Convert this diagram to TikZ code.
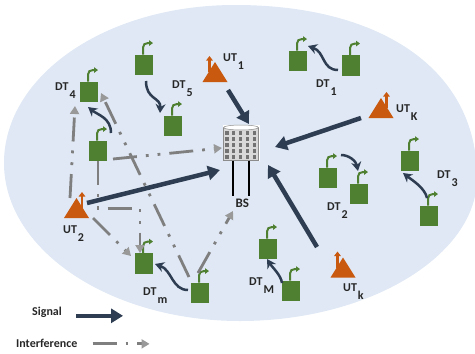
\documentclass[tikz,border=0pt]{standalone}
\usepackage{fontspec}
\setmainfont{Carlito}
\usetikzlibrary{arrows.meta}

\definecolor{cellblue}{HTML}{DFE8F4}
\definecolor{dtgreen}{HTML}{4F7F30}
\definecolor{utorange}{HTML}{C9590F}
\definecolor{sigdark}{HTML}{2E3D52}
\definecolor{intgray}{HTML}{7F7F7F}

\tikzset{
  dt/.style={fill=dtgreen, minimum width=18.5pt, minimum height=20.5pt, inner sep=0pt},
  dtant/.style={draw=dtgreen, line width=2pt, -{Triangle[length=4pt,width=5.5pt]}},
  ut/.style={minimum width=25pt, minimum height=20pt, inner sep=0pt},
  lbl/.style={anchor=base west, inner sep=0pt, font=\fontsize{12}{13}\selectfont\bfseries, text=black!85},
  signal/.style={draw=sigdark, line width=4.5pt, -{Triangle[length=12pt,width=14pt]}},
  pair/.style={draw=sigdark, line width=2.5pt, -{Stealth[length=9pt,width=10pt]}},
  interf/.style={draw=intgray, line width=2.8pt,
    dash pattern=on 24pt off 9pt on 2.8pt off 9pt on 2.8pt off 9pt,
    -{Triangle[length=8pt,width=9pt,fill=intgray!80,color=intgray!80]}},
}

\newcommand{\dtnode}[2]{
  \node[dt] (#1) at (#2) {};
  \draw[dtant] ([xshift=-1pt]#1.north) -- ++(0,-7) .. controls +(0,-3) and +(-3,0) .. ++(5,-4.5) -- ++(5,0);
}
\newcommand{\utnode}[3][1]{
  \node[ut] (#2) at (#3) {};
  \fill[utorange, shift={(#3)}, xscale=#1] (-12.5,10) -- (0,-10) -- (12.5,10) -- cycle;
  \draw[utorange, shift={(#3)}, xscale=#1, line width=2.2pt, -{Triangle[length=4.5pt,width=6.5pt]}] (5.5,0) -- (5.5,-16);
}
\newcommand{\sublab}[4]{
  \node[lbl] (#1) at (#2) {#3\hspace{1pt}\raisebox{-8pt}{#4}};
}

\begin{document}
\begin{tikzpicture}[x=1pt, y=-1pt]
  \useasboundingbox (0,0) rectangle (475,354);

  % coverage area
  \fill[cellblue] (4,163) .. controls (4,76) and (105,5) .. (235,5)
    .. controls (375,5) and (477,65) .. (477,178)
    .. controls (477,255) and (370,321) .. (240,321)
    .. controls (110,321) and (4,250) .. (4,163) -- cycle;

  % base station
  \node[fill=white, minimum width=37pt, minimum height=36pt, inner sep=0pt] (bs) at (241,142.5) {};
  \fill[black!15, draw=black!45, line width=0.5pt] (223.5,127.5) -- (223.5,160) -- (258.5,160) -- (258.5,127.5);
  \filldraw[fill=white, draw=black!45, line width=0.5pt] (241,127.5) ellipse [x radius=17.5, y radius=2.5];
  \foreach \wx in {227,233.5,240.5,247.5,254.5}
    \foreach \wy in {133,139,145,151,157}
      \fill[black!55] (\wx-1.8,\wy-1.8) rectangle (\wx+1.8,\wy+1.8);
  \draw[black, line width=2.2pt] ([xshift=-8pt]bs.south) -- ++(0,35);
  \draw[black, line width=2.2pt] ([xshift=8pt]bs.south) -- ++(0,35);
  \node[lbl, font=\fontsize{13}{13}\selectfont\bfseries] (bslab) at (235.5,207) {BS};

  % devices
  \dtnode{dtfour}{89,92}
  \dtnode{dtfiveb}{144,65}
  \dtnode{dtfive}{173,126}
  \dtnode{dtmid}{98,151}
  \dtnode{dtm}{144,263.5}
  \dtnode{dtmb}{200,293}
  \dtnode{dtone}{298,61}
  \dtnode{dtoneb}{351,65.5}
  \dtnode{dttwo}{328,178}
  \dtnode{dttwob}{359,194}
  \dtnode{dtthree}{410,161}
  \dtnode{dtthreeb}{429,216}
  \dtnode{dtM}{268,249}
  \dtnode{dtMb}{291,291}

  % users
  \utnode[-1]{utone}{215,72}
  \utnode{uttwo}{76.5,208}
  \utnode{utK}{381,108}
  \utnode[-1]{utk}{343,267.5}

  % labels
  \sublab{labdtfour}{55,90}{DT}{4}
  \sublab{labdtfive}{172,88}{DT}{5}
  \sublab{labdtone}{316,87}{DT}{1}
  \sublab{labdttwo}{327,210}{DT}{2}
  \sublab{labdtthree}{437,178}{DT}{3}
  \sublab{labdtM}{249,285}{DT}{M}
  \sublab{labdtm}{143,295}{DT}{m}
  \sublab{labutone}{223,61}{UT}{1}
  \sublab{labuttwo}{63,233}{UT}{2}
  \sublab{labutK}{396,112}{UT}{K}
  \sublab{labutk}{343,291}{UT}{k}

  % signal
  \draw[signal] ([shift={(13,18)}]utone.center) -- ([shift={(8,-18.5)}]bs.center);
  \draw[signal] ([shift={(-20,10)}]utK.center) -- ([shift={(34,4.5)}]bs.center);
  \draw[signal] ([shift={(10.5,-5)}]uttwo.center) -- ([shift={(-21,27.5)}]bs.center);
  \draw[signal] ([shift={(-26,-20.5)}]utk.center) -- ([shift={(27,22.5)}]bs.center);

  % device pairs
  \draw[pair] ([shift={(2,16)}]dtfiveb.center) .. controls +(0,19) and +(1,-16) .. ([shift={(-13,-13)}]dtfive.center);
  \draw[pair] ([shift={(13,-18)}]dtmid.center) .. controls +(0,-15) and +(10,8) .. ([shift={(-1,15)}]dtfour.center);
  \draw[pair] ([shift={(-13,4.5)}]dtoneb.center) .. controls +(-16,0) and +(17,6) .. ([shift={(10,-15)}]dtone.center);
  \draw[pair] ([shift={(13,-23)}]dttwo.center) .. controls +(8,0) and +(-2,-10) .. ([shift={(-1,-23)}]dttwob.center);
  \draw[pair] ([shift={(-2,-18)}]dtthreeb.center) .. controls +(-2,-10) and +(9,7) .. ([shift={(-7,12)}]dtthree.center);
  \draw[pair] ([shift={(-9,-8)}]dtMb.center) .. controls +(-1,-8) and +(5,8) .. ([shift={(-1,10)}]dtM.center);
  \draw[pair] ([shift={(-12,-3)}]dtmb.center) .. controls +(-16,0) and +(17,6) .. ([shift={(11,0.5)}]dtm.center);

  % interference
  \draw[interf] ([shift={(-6.5,-10)}]uttwo.center) -- ([shift={(-14,14)}]dtfour.center);
  \draw[interf] ([shift={(-11,-16)}]dtmb.center) -- ([shift={(12,1)}]dtfour.center);
  \draw[interf] ([shift={(15,8)}]dtmid.center) -- ([shift={(-19,5.5)}]bs.center);
  \draw[interf] (dtmid.south) -- ++(0,47) -| ([xshift=-4pt]dtm.north);
  \draw[interf] ([shift={(16.5,10)}]uttwo.center) -- ([shift={(-13,-7.5)}]dtm.center);
  \draw[interf] ([shift={(-2,-20)}]dtmb.center) -- ([shift={(-8,68.5)}]bs.center);

  % legend
  \node[lbl] (siglab) at (32,315) {Signal};
  \node[lbl] (intlab) at (16,347) {Interference};
  \draw[signal] ([shift={(14,4)}]siglab.east) -- ++(47,0);
  \draw[interf, dash pattern=on 24pt off 9pt on 2.8pt off 9pt] ([shift={(15,1)}]intlab.east) -- ++(57,0);
\end{tikzpicture}
\end{document}
